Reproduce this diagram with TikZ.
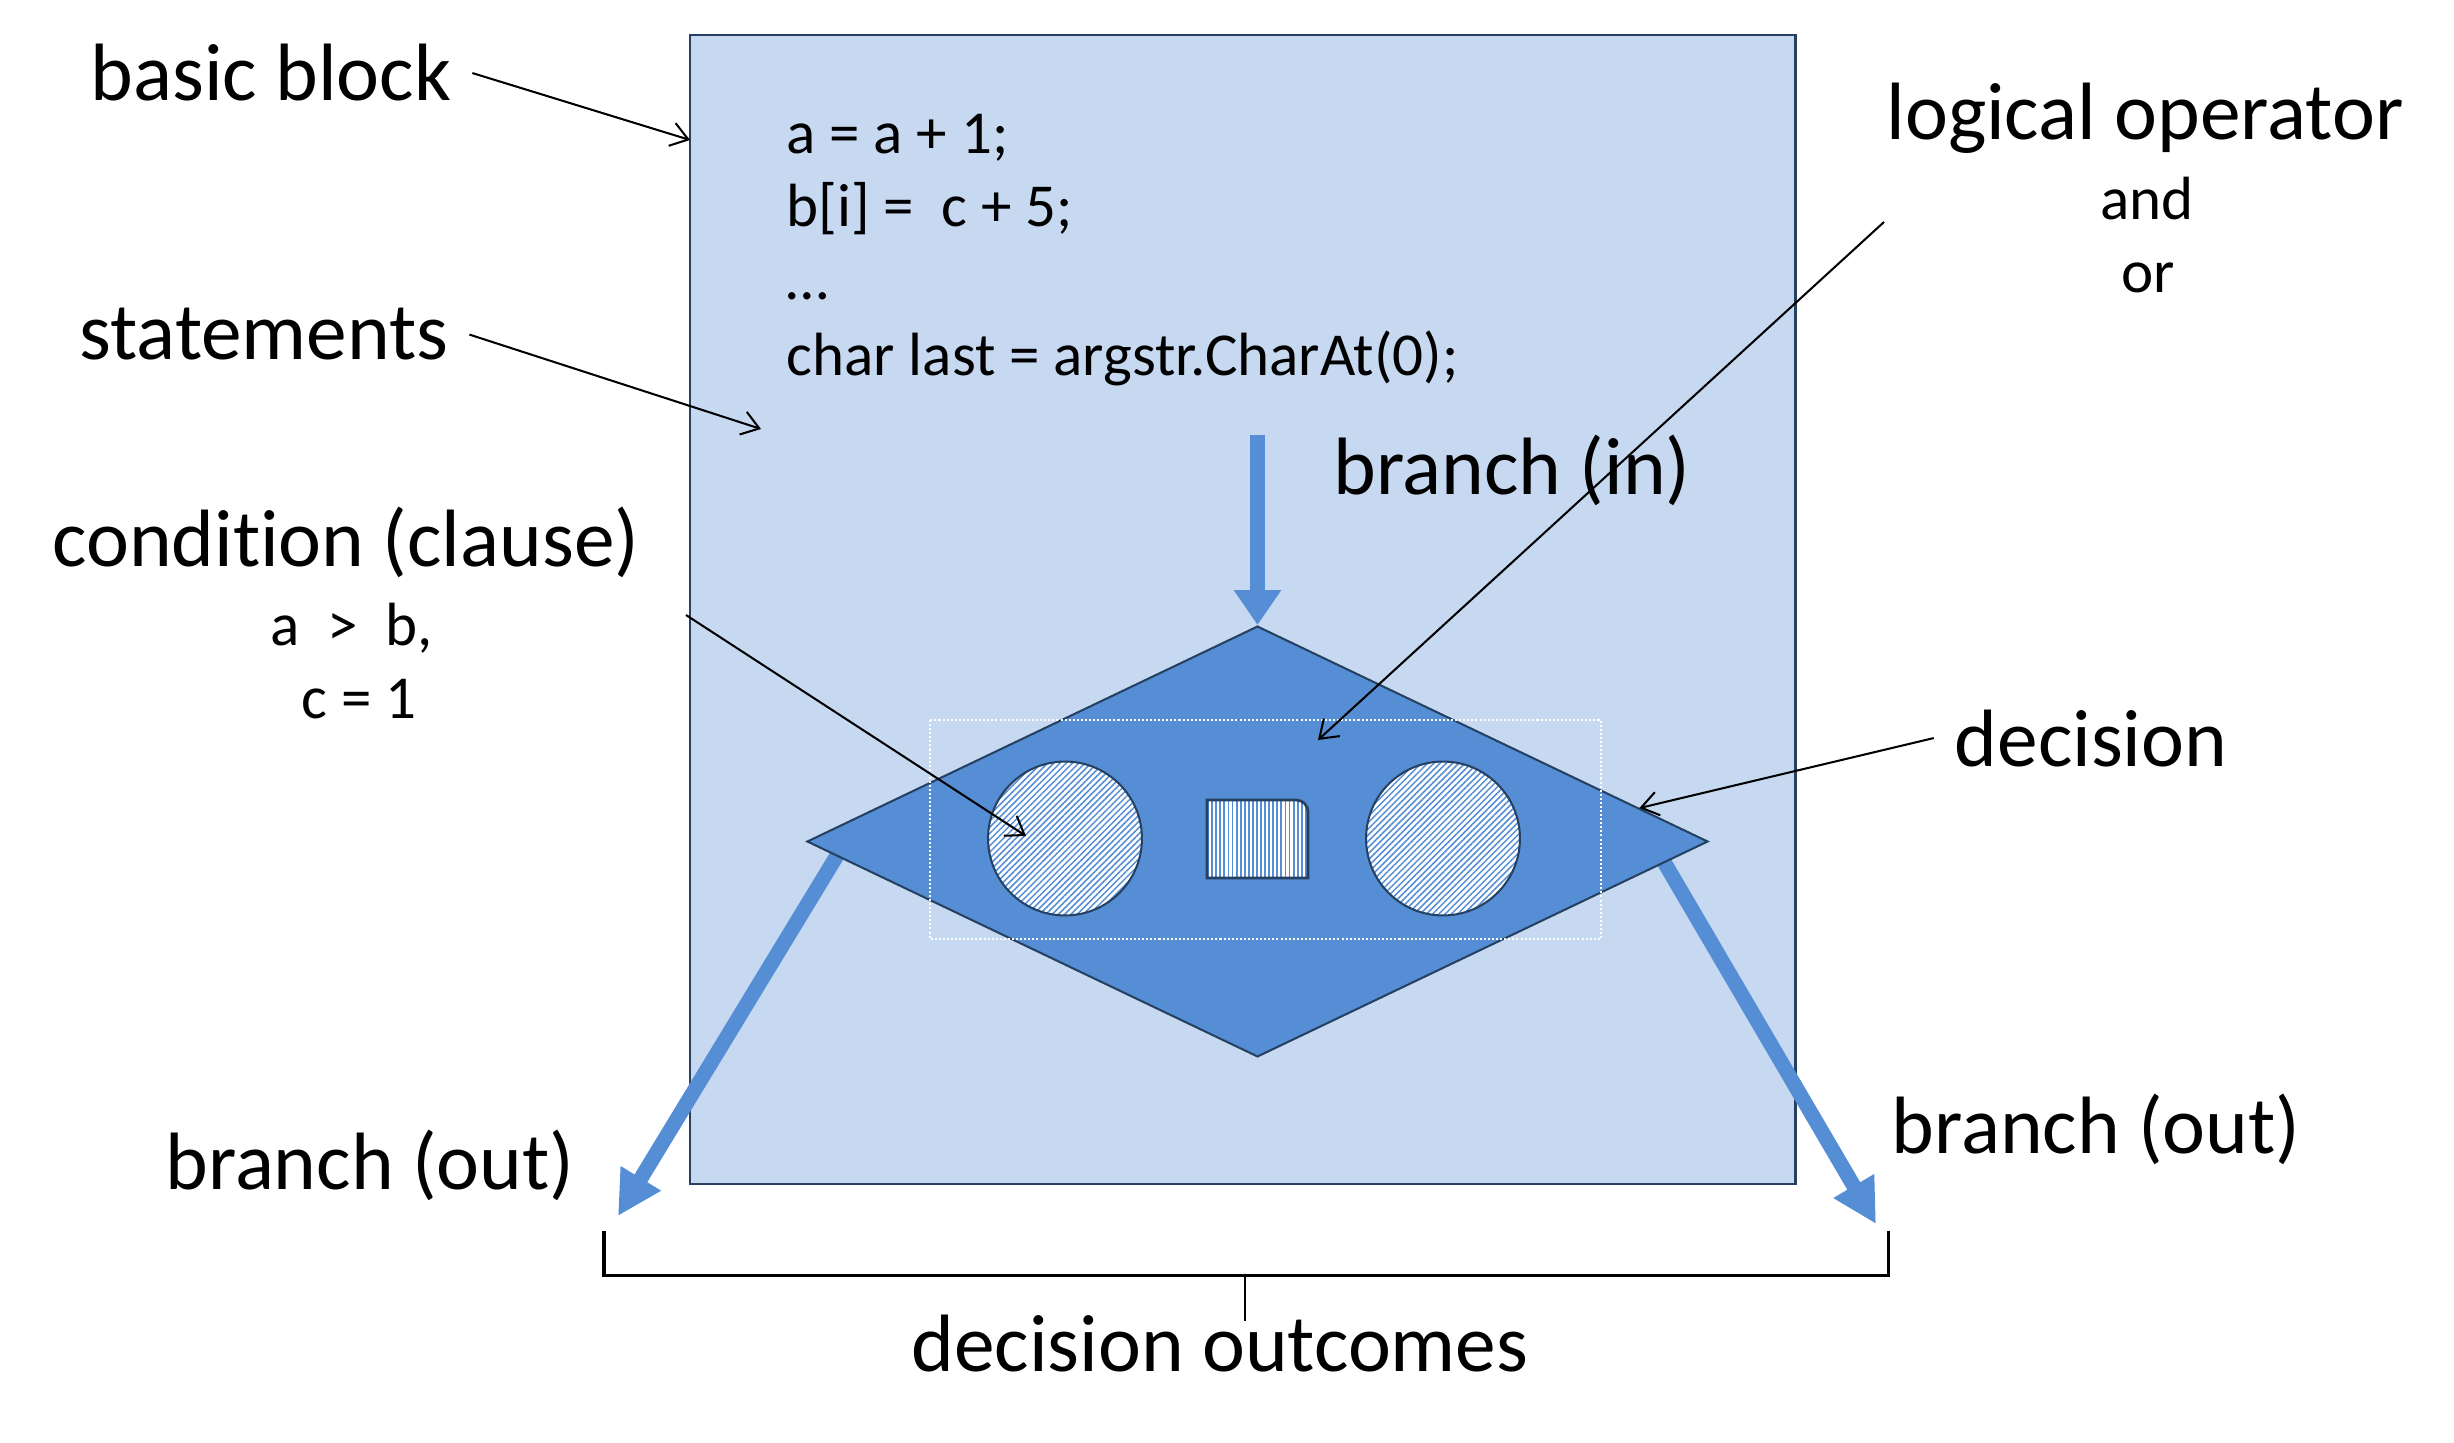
\documentclass[tikz,border=0pt]{standalone}
\usepackage{fontspec}
\setmainfont[Ligatures=NoCommon]{Carlito}
\usetikzlibrary{shapes.geometric,arrows.meta,patterns.meta,backgrounds}
\definecolor{blockfill}{RGB}{198,217,241}
\definecolor{decfill}{RGB}{85,142,213}
\definecolor{edgeblue}{RGB}{37,64,97}

\tikzset{
  biglabel/.style={anchor=base, font=\fontsize{24}{28}\selectfont, inner sep=6pt},
  smalllabel/.style={anchor=base, font=\fontsize{18}{22}\selectfont, inner sep=0pt},
  codeline/.style={anchor=base west, font=\fontsize{18}{22}\selectfont, inner sep=0pt},
  callout/.style={draw=black, line width=0.6pt, -{Straight Barb[length=5pt,width=7pt]}},
  flow/.style={draw=decfill, line width=4.4pt},
  hatched/.style={preaction={fill=white}, draw=edgeblue, line width=0.6pt,
    pattern={Lines[angle=45,distance=1.3pt,line width=0.45pt]}, pattern color=decfill},
  barred/.style={preaction={fill=white}, draw=edgeblue, line width=0.8pt,
    pattern={Lines[angle=90,distance=1.2pt,line width=0.55pt]}, pattern color=decfill}
}

\begin{document}
\begin{tikzpicture}[x=0.295pt, y=-0.295pt]
  \useasboundingbox (0,0) rectangle (2454,1443);

  % basic block
  \begin{scope}[on background layer]
    \node[draw=edgeblue, fill=blockfill, line width=0.75pt, inner sep=0pt,
      minimum width=326.1pt, minimum height=339pt] (block) at (1242.75,609.5) {};
  \end{scope}
  \foreach \y/\txt [count=\i] in {154/{a = a + 1;}, 227/{b[i] =~~c + 5;}, 300/{…}, 376/{char last = argstr.CharAt(0);}}
    \node[codeline] (code\i) at (786,\y) {\txt};

  % decision with its conditions
  \node[diamond, draw=edgeblue, fill=decfill, line width=0.6pt, inner sep=0pt,
    minimum width=265.8pt, minimum height=127.1pt] (dia) at (1257.5,841.5) {};
  \draw[white, line width=0.8pt, dash pattern=on 0.6pt off 0.6pt] (930,720) rectangle (1601,939);
  \node[circle, hatched, inner sep=0pt, minimum size=45.4pt] (cl) at (1065,838.5) {};
  \node[circle, hatched, inner sep=0pt, minimum size=45.4pt] (cr) at (1443,838.5) {};
  \draw[barred] (1257,800) [rounded corners=3.5pt] -- (1308,800) -- (1308,840) [sharp corners]
    -- (1308,878) -- (1207,878) -- (1207,800) -- cycle;

  % branches
  \coordinate (bin) at (1257.5,435);
  \coordinate (outL) at (618,1216);
  \coordinate (outR) at (1876,1224);
  \draw[flow, -{Triangle[length=10.3pt,width=13.3pt]}] (bin) -- (dia.north);
  \begin{scope}[on background layer]
    \draw[flow, -{Triangle[length=13pt,width=13pt]}, shorten <=-8pt] (dia.182) -- (outL);
    \draw[flow, -{Triangle[length=13pt,width=13pt]}, shorten <=-8pt] (dia.357) -- (outR);
  \end{scope}

  % labels
  \node[biglabel] (bb) at (271,101) {basic block};
  \node[biglabel] (st) at (264,360) {statements};
  \node[biglabel] (cond) at (346,566) {condition (clause)};
  \node[smalllabel] (cond1) at (352,645) {a~~>~~b,};
  \node[smalllabel] (cond2) at (359,718) {c = 1};
  \node[biglabel] (lo) at (2145,140) {logical operator};
  \node[smalllabel] (and) at (2147,220) {and};
  \node[smalllabel] (or) at (2148,293) {or};
  \node[biglabel] (binl) at (1512,494) {branch (in)};
  \node[biglabel] (dl) at (2091,766) {decision};
  \node[biglabel] (boL) at (370,1189) {branch (out)};
  \node[biglabel] (boR) at (2096,1153) {branch (out)};
  \node[biglabel] (outc) at (1220,1371) {decision outcomes};

  % callouts
  \coordinate (bbhit) at (690,140);
  \coordinate (sthit) at (761,429);
  \coordinate (condtail) at (686,615);
  \coordinate (condhit) at (1026,836);
  \coordinate (lotail) at (1884,222);
  \coordinate (lohit) at (1318,740);
  \draw[callout] (bb.east) -- (bbhit);
  \draw[callout] (st.east) -- (sthit);
  \draw[callout] (condtail) -- (condhit);
  \draw[callout] (lotail) -- (lohit);
  \draw[callout] (dl.west) -- (dia.5);

  % outcomes bracket
  \coordinate (brmid) at (1245,1275.5);
  \coordinate (brtick) at (1245,1321);
  \draw[line width=0.9pt] (604,1231) -- (604,1275.5) -- (1888,1275.5) -- (1888,1231);
  \draw[line width=0.5pt] (brmid) -- (brtick);
\end{tikzpicture}
\end{document}
